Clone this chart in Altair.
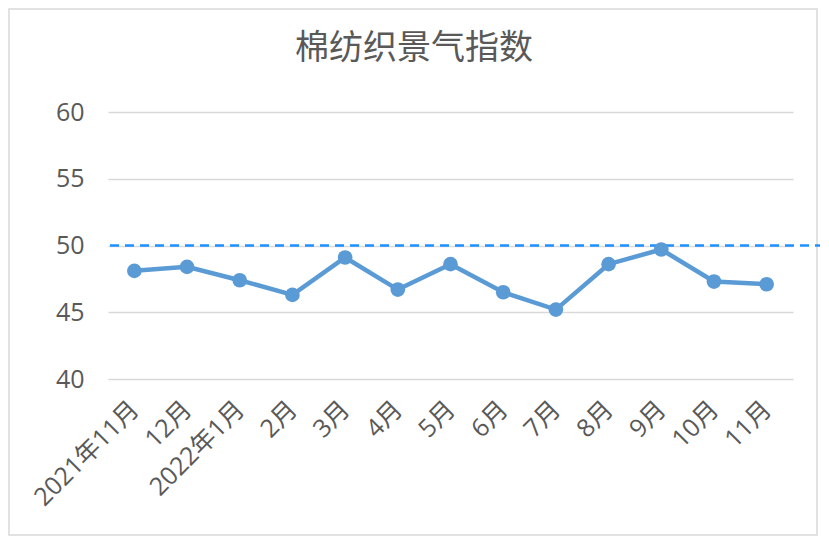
import altair as alt
import pandas as pd

title_text = "棉纺织景气指数"
months = ["2021年11月", "12月", "2022年1月", "2月", "3月", "4月", "5月",
          "6月", "7月", "8月", "9月", "10月", "11月"]
values = [48.1, 48.4, 47.4, 46.3, 49.1, 46.7, 48.6, 46.5, 45.2, 48.6, 49.7, 47.3, 47.1]
threshold = [50]
y_ticks = [40, 45, 50, 55, 60]

df = pd.DataFrame({"month": months, "value": values})
ref = pd.DataFrame({"v": threshold})

FONT = "Open Sans, Noto Sans CJK SC, sans-serif"
W, H = 685, 267

x_enc = alt.X("month:N", sort=months, title=None,
              scale=alt.Scale(type="point", padding=0.5),
              axis=alt.Axis(labelAngle=-45, labelAlign="right", labelBaseline="middle",
                            labelFontSize=25, labelColor="#595959", labelFont=FONT,
                            labelPadding=26, ticks=False, domain=False, grid=False))
y_enc = alt.Y("value:Q", title=None,
              scale=alt.Scale(domain=[40, 60], nice=False, zero=False),
              axis=alt.Axis(values=y_ticks, labelFontSize=25, labelColor="#595959",
                            labelFont=FONT, labelPadding=24, ticks=False, domain=False,
                            gridColor="#D9D9D9", gridWidth=1.5))

base = alt.Chart(df)

line = base.mark_line(color="#5B9BD5", strokeWidth=4.5).encode(x=x_enc, y=y_enc)
pts = base.mark_circle(color="#5B9BD5", size=215, opacity=1).encode(x=x_enc, y=y_enc)

rule = alt.Chart(ref).mark_rule(color="#1E90FF", strokeWidth=2.5, strokeDash=[9, 6]).encode(
    y=alt.Y("v:Q"), x=alt.value(2), x2=alt.value(714))

border = alt.Chart(ref).mark_rect(fill=None, stroke="#D9D9D9", strokeWidth=1.5).encode(
    x=alt.value(-99), x2=alt.value(709), y=alt.value(-103), y2=alt.value(423))

title = alt.Chart(pd.DataFrame({"t": [title_text]})).mark_text(
    fontSize=34, color="#595959", font=FONT, align="center", baseline="middle").encode(
    text="t:N", x=alt.value(306), y=alt.value(-63))

chart = alt.layer(border, rule, line, pts, title).properties(
    width=W, height=H,
    autosize=alt.AutoSizeParams(type="none"),
    padding={"left": 100, "top": 104, "right": 27, "bottom": 158},
    background="white",
).configure_view(stroke=None)

chart.save("out.html", embed_options={"renderer": "svg", "actions": False})
